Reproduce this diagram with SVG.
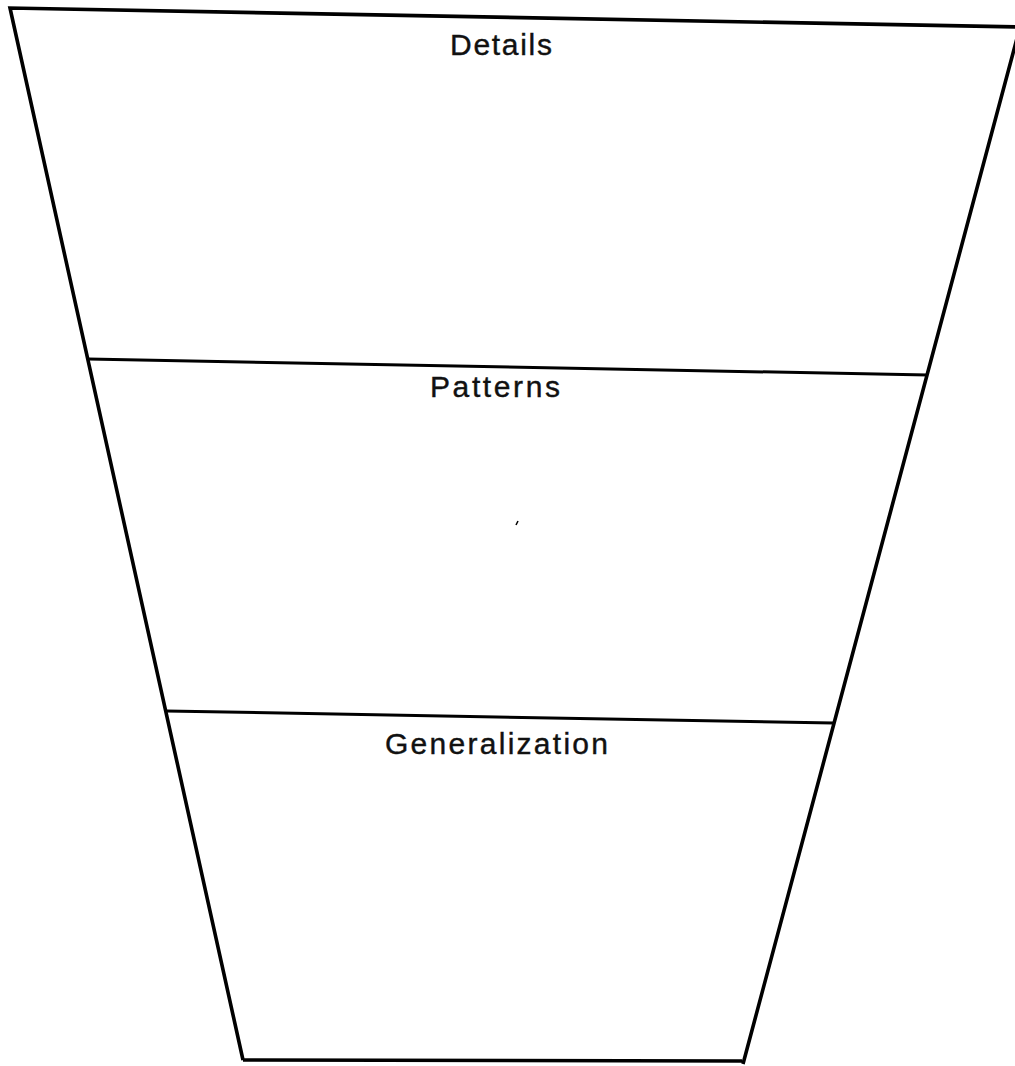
<svg xmlns="http://www.w3.org/2000/svg" width="1015" height="1066" viewBox="0 0 1015 1066">
<style>
.edge{fill:none;stroke:#000;stroke-width:3.6;stroke-linejoin:miter;stroke-linecap:butt}
.div{fill:none;stroke:#000;stroke-width:3}
.lbl{font-family:"Liberation Sans",Arial,sans-serif;font-size:30px;fill:#111;stroke:#111;stroke-width:0.4}
</style>
<rect width="1015" height="1066" fill="#fff"/>
<g id="funnel">
<path class="edge" d="M243,1060 L10,8 L1020,27 M1020,27 L743,1064 M243,1060 L742,1061"/>
</g>
<g id="details">
<text class="lbl" x="450" y="55" textLength="102" lengthAdjust="spacing">Details</text>
</g>
<g id="patterns">
<path class="div" d="M88,359 L928,375"/>
<text class="lbl" x="430" y="397" textLength="130" lengthAdjust="spacing">Patterns</text>
</g>
<g id="generalization">
<path class="div" d="M166,711 L833,723"/>
<text class="lbl" x="385" y="754" textLength="223" lengthAdjust="spacing">Generalization</text>
</g>
<g id="connectors"></g>
<path d="M516,525 L518,521" stroke="#000" stroke-width="1.5"/>
</svg>
